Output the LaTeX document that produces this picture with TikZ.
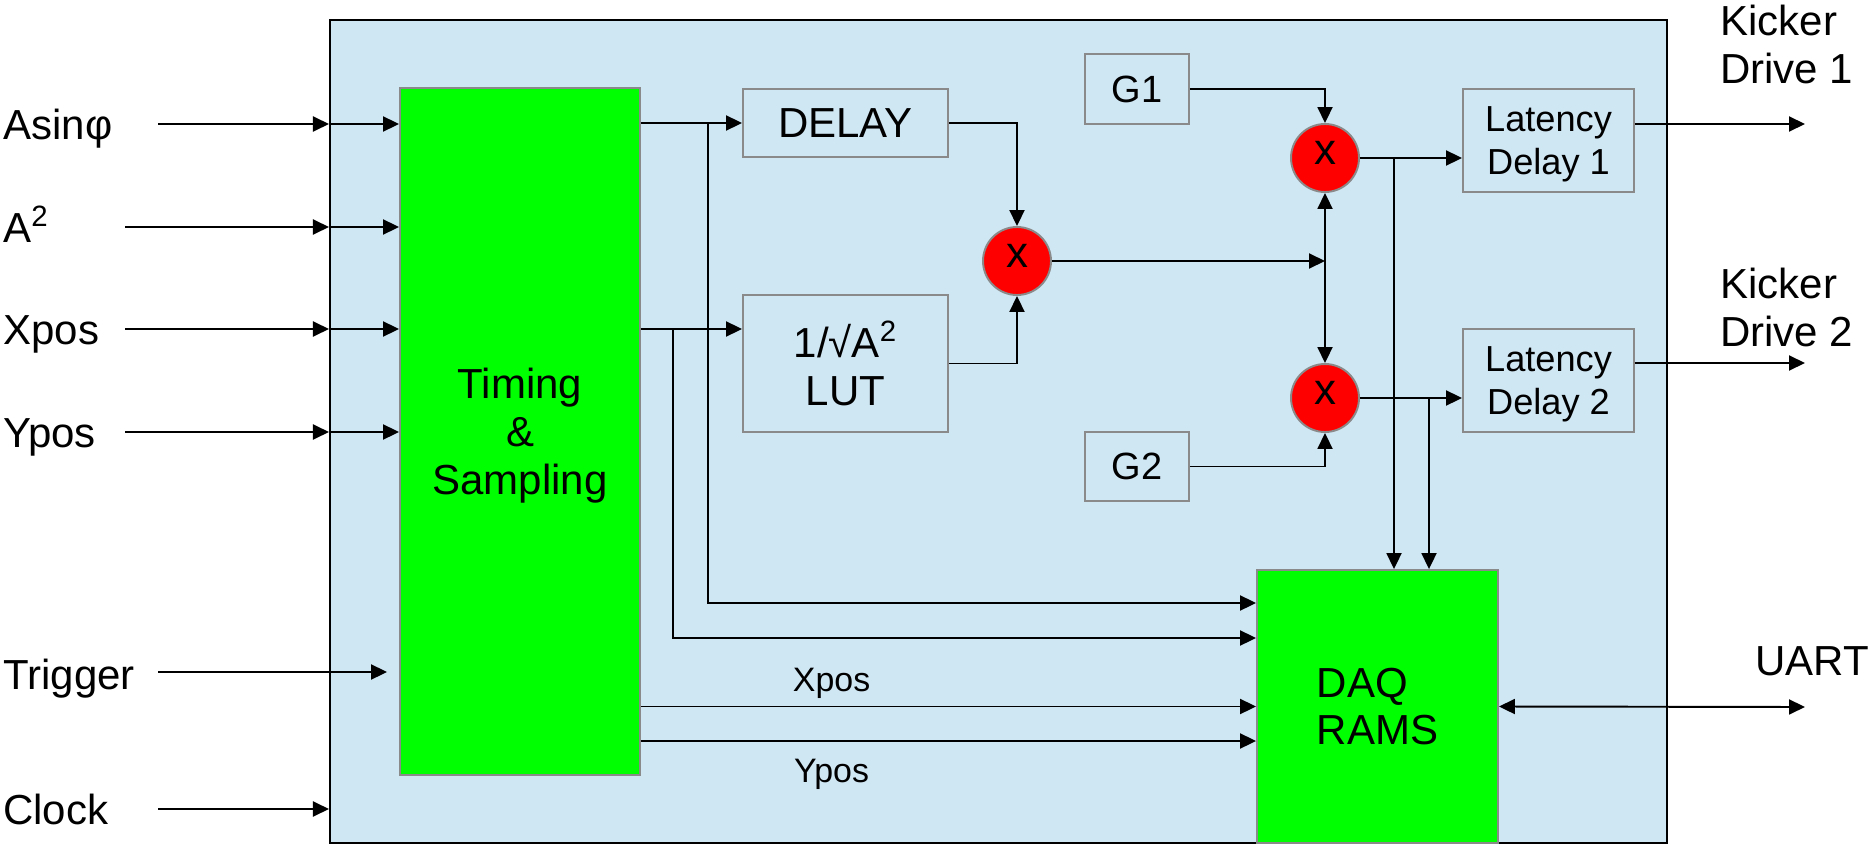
\documentclass[tikz,border=0pt]{standalone}
\usepackage{fontspec}
\setmainfont{Liberation Sans}
\usetikzlibrary{arrows.meta,positioning}
\definecolor{boardC}{RGB}{207,230,243}
\definecolor{greenC}{RGB}{0,255,0}
\definecolor{redC}{RGB}{255,0,0}
\definecolor{edgeC}{RGB}{138,138,138}
\newcommand{\sizeL}{\fontsize{23.9}{27.2}\selectfont}
\newcommand{\sizeX}{\fontsize{25}{28}\selectfont}
\newcommand{\sizeG}{\fontsize{21.6}{25}\selectfont}
\newcommand{\sizeM}{\fontsize{20.6}{24.5}\selectfont}
\newcommand{\sizeS}{\fontsize{19.3}{22}\selectfont}

\begin{document}
\begin{tikzpicture}[
  x=0.02cm,y=-0.02cm,
  blk/.style={draw=edgeC,line width=1.1pt,fill=boardC,inner sep=0pt,
              align=center,font=\sizeL},
  core/.style={draw=edgeC,line width=1.1pt,fill=greenC,inner sep=0pt,
               align=center,font=\sizeL},
  mul/.style={circle,draw=edgeC,line width=1.1pt,fill=redC,inner sep=0pt,
              minimum size=1.36cm,font=\sizeX,text height=0.7em},
  lbl/.style={inner sep=0pt,font=\sizeL,align=left},
  arr/.style={-{Triangle[length=0.32cm,width=0.3cm]},line width=1.1pt},
  arrboth/.style={{Triangle[length=0.32cm,width=0.3cm]}-{Triangle[length=0.32cm,width=0.3cm]},
                  line width=1.1pt}
]
  \useasboundingbox (0,0) rectangle (1870,848);

  % Board outline
  \node[draw=black,line width=1.3pt,fill=boardC,inner sep=0pt,
        minimum width=26.74cm,minimum height=16.46cm] (fpga) at (998.5,431.5) {};

  % Timing & Sampling block
  \node[core,text depth=0pt,minimum width=4.8cm,minimum height=13.74cm] (timing) at (520,431.5)
    {Timing\\\&\\Sampling};

  % DAQ RAMS block
  \node[core,align=left,minimum width=4.82cm,minimum height=5.46cm] (daq) at (1377.5,706.5)
    {DAQ\\RAMS};

  % Delay and LUT
  \node[blk,minimum width=4.1cm,minimum height=1.36cm] (delay) at (845.5,123) {DELAY};
  \node[blk,minimum width=4.1cm,minimum height=2.74cm] (lut) at (845.5,363.5)
    {1/√A\textsuperscript{2}\\LUT};

  % Gains
  \node[blk,font=\sizeG,minimum width=2.08cm,minimum height=1.4cm] (g1) at (1137,89) {G1};
  \node[blk,font=\sizeG,minimum width=2.08cm,minimum height=1.38cm] (g2) at (1137,466.5) {G2};

  % Multipliers
  \node[mul] (mul1) at (1017,261) {x};
  \node[mul] (mul2) at (1325,158) {x};
  \node[mul] (mul3) at (1325,398) {x};

  % Latency delays
  \node[blk,font=\sizeM,text depth=0pt,minimum width=3.42cm,minimum height=2.06cm] (lat1)
    at (1548.5,140.5) {Latency\\Delay 1};
  \node[blk,font=\sizeM,text depth=0pt,minimum width=3.42cm,minimum height=2.06cm] (lat2)
    at (1548.5,380.5) {Latency\\Delay 2};

  % Input labels
  \node[lbl,anchor=base west] (asinL) at (3,139) {Asinφ};
  \node[lbl,anchor=base west] (asqL) at (3,242) {A\textsuperscript{2}};
  \node[lbl,anchor=base west] (xL) at (3,344) {Xpos};
  \node[lbl,anchor=base west] (yL) at (3,447) {Ypos};
  \node[lbl,anchor=base west] (trigL) at (3,689) {Trigger};
  \node[lbl,anchor=base west] (clkL) at (3,824) {Clock};

  % Output labels
  \node[lbl,anchor=north west] (kick1L) at (1720,5) {Kicker\\Drive 1};
  \node[lbl,anchor=north west] (kick2L) at (1720,268) {Kicker\\Drive 2};
  \node[lbl,anchor=base west] (uartL) at (1755,675) {UART};

  % Line ends and bends
  \coordinate (asinS) at (158,124);
  \coordinate (asqS) at (125,227);
  \coordinate (xS) at (125,329);
  \coordinate (yS) at (125,432);
  \coordinate (trigS) at (158,672);
  \coordinate (clkS) at (158,809);
  \coordinate (tapA) at (708,124);
  \coordinate (turnA) at (708,603);
  \coordinate (tapB) at (673,329);
  \coordinate (turnB) at (673,638);
  \coordinate (yrow) at (700,741);
  \coordinate (tapC) at (1394,158);
  \coordinate (tapD) at (1429,398);
  \coordinate (kick1) at (1805,124);
  \coordinate (kick2) at (1805,363);
  \coordinate (uartE) at (1805,707);

  % Inputs
  \foreach \s in {asinS,asqS,xS,yS} {
    \draw[arr] (\s) -- (\s -| fpga.west);
    \draw[arr] (\s -| fpga.west) -- (\s -| timing.west);
  }
  \draw[arr,shorten >=0.24cm] (trigS) -- (trigS -| timing.west);
  \draw[arr] (clkS) -- (clkS -| fpga.west);

  % Timing outputs
  \draw[arr] (delay.west -| timing.east) -- (delay.west);
  \draw[arr] (xS -| timing.east) -- (xS -| lut.west);
  \draw[arr] (tapA) -- (turnA) -- (turnA -| daq.west);
  \draw[arr] (tapB) -- (turnB) -- (turnB -| daq.west);
  \draw[arr] (daq.west -| timing.east) -- (daq.west)
    node[pos=0.31,above=0.1cm,font=\sizeS,inner sep=1pt] (xposL) {Xpos};
  \draw[arr] (yrow -| timing.east) -- (yrow -| daq.west)
    node[pos=0.31,below=0.3cm,font=\sizeS,inner sep=1pt] (yposL) {Ypos};

  % Normalisation
  \draw[arr] (delay.east) -| (mul1.north);
  \draw[arr] (lut.east) -| (mul1.south);
  \draw[arr] (mul1.east) -- (mul1 -| mul2.center);
  \draw[arrboth] (mul2.south) -- (mul3.north);

  % Gains
  \draw[arr] (g1.east) -| (mul2.north);
  \draw[arr] (g2.east) -| (mul3.south);

  % Kicker paths
  \draw[arr] (mul2.east) -- (mul2 -| lat1.west);
  \draw[arr] (mul3.east) -- (mul3 -| lat2.west);
  \draw[arr] (tapC) -- (tapC |- daq.north);
  \draw[arr] (tapD) -- (tapD |- daq.north);
  \draw[arr] (kick1 -| lat1.east) -- (kick1);
  \draw[arr] (kick2 -| lat2.east) -- (kick2);

  % Readout
  \draw[arrboth] (daq.east) -- (uartE);
\end{tikzpicture}
\end{document}
